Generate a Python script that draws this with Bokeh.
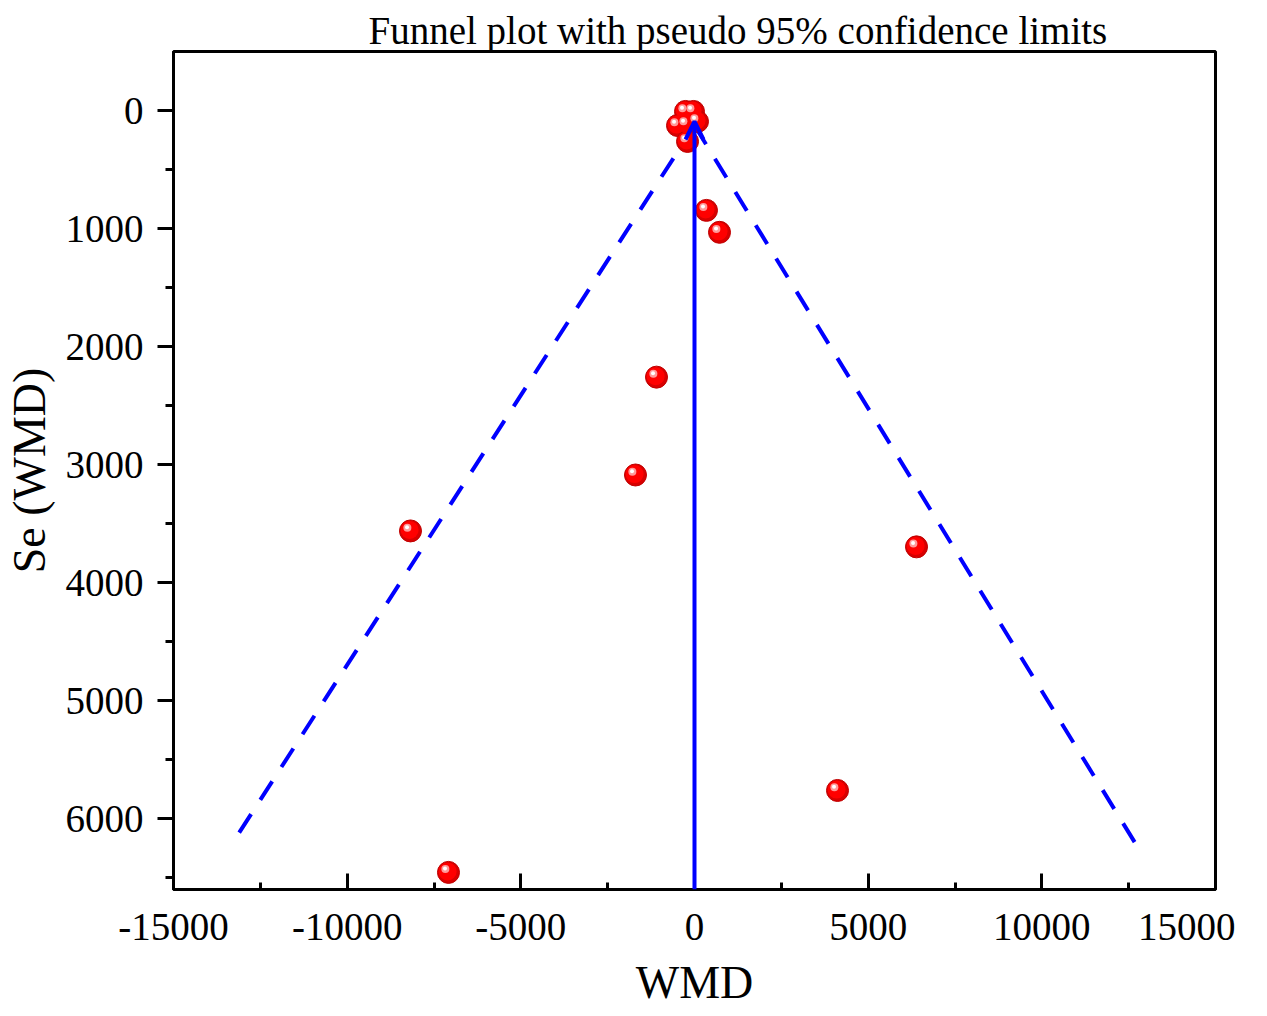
from bokeh.plotting import figure
from bokeh.models import Range1d, FixedTicker, Arrow, OpenHead
from bokeh.transform import dodge
from bokeh.embed import file_html
from bokeh.resources import INLINE

# Study estimates: WMD and its standard error
wmd = [-259, -29, -489, -230, 86, -201, 345, 720, -1094, -1699, -8177, 6392, 4117, -7083]
se = [8, 8, 127, 118, 93, 262, 846, 1032, 2259, 3088, 3562, 3697, 5761, 6455]

# pseudo 95% confidence limit lines (apex and ends)
left_x = [0, -13273]
left_y = [127, 6193]
right_x = [0, 12870]
right_y = [127, 6294]
# pooled estimate line
pooled_x = 0
pooled_top = 93
pooled_bottom = 6600

x_ticks = [-15000, -10000, -5000, 0, 5000, 10000, 15000]
x_tick_labels = ["-15000", "-10000", "-5000", "0", "5000", "10000", "15000"]
x_minor = [-12500, -7500, -2500, 2500, 7500, 12500]
y_ticks = [0, 1000, 2000, 3000, 4000, 5000, 6000]
y_tick_labels = ["0", "1000", "2000", "3000", "4000", "5000", "6000"]
y_minor = [500, 1500, 2500, 3500, 4500, 5500, 6500]

FONT = "Liberation Serif"

p = figure(frame_width=1042, frame_height=838, output_backend="svg", toolbar_location=None,
           x_range=Range1d(-15000, 15000), y_range=Range1d(6600, -500),
           min_border_left=166, min_border_right=20, min_border_bottom=100, min_border_top=51,
           title="Funnel plot with pseudo 95% confidence limits")
p.grid.visible = False
p.background_fill_color = "white"
p.border_fill_color = "white"
p.outline_line_color = "black"
p.outline_line_width = 3

p.title.text_font = FONT
p.title.text_font_size = "39px"
p.title.text_font_style = "normal"
p.title.text_color = "black"
p.title.align = "left"
p.title.offset = 195
p.title.standoff = 0

# axes
xa = p.xaxis[0]
xa.ticker = FixedTicker(ticks=x_ticks, minor_ticks=x_minor)
xa.major_label_overrides = {t: l for t, l in zip(x_ticks, x_tick_labels)}
xa.axis_label = "WMD"
ya = p.yaxis[0]
ya.ticker = FixedTicker(ticks=y_ticks, minor_ticks=y_minor)
ya.major_label_overrides = {t: l for t, l in zip(y_ticks, y_tick_labels)}
ya.axis_label = "Se (WMD)"

for ax in (xa, ya):
    ax.axis_line_width = 3
    ax.axis_line_color = "black"
    ax.major_tick_line_width = 3
    ax.minor_tick_line_width = 3
    ax.major_tick_line_color = "black"
    ax.minor_tick_line_color = "black"
    ax.major_label_text_font = FONT
    ax.major_label_text_font_size = "39px"
    ax.major_label_text_color = "black"
    ax.axis_label_text_font = FONT
    ax.axis_label_text_font_size = "46px"
    ax.axis_label_text_font_style = "normal"
    ax.axis_label_text_color = "black"

xa.major_tick_in = 16
xa.major_tick_out = 0
xa.minor_tick_in = 7
xa.minor_tick_out = 0
xa.major_label_standoff = 24
xa.axis_label_standoff = 14

ya.major_tick_in = 0
ya.major_tick_out = 16
ya.minor_tick_in = 0
ya.minor_tick_out = 8
ya.major_label_standoff = 14
ya.axis_label_standoff = 8

# funnel limits
p.line(left_x, left_y, line_color="#0000ff", line_width=4, line_dash="22 17")
p.line(right_x, right_y, line_color="#0000ff", line_width=4, line_dash="22 17")

# pooled estimate with arrow head
p.add_layout(Arrow(x_start=pooled_x, y_start=pooled_bottom, x_end=pooled_x, y_end=pooled_top,
                   line_color="#0000ff", line_width=4,
                   end=OpenHead(size=18, line_color="#0000ff", line_width=4)))

# sphere-like markers
src = dict(x=wmd, y=se)
p.scatter("x", "y", source=src, size=22, fill_color="#d80000", line_color="#c00000", line_width=1)
p.scatter(dodge("x", -25, range=p.x_range), dodge("y", -8, range=p.y_range), source=src,
          size=18, fill_color="#ff0000", line_color=None)
p.scatter(dodge("x", -90, range=p.x_range), dodge("y", -28, range=p.y_range), source=src,
          size=8, fill_color="#ff9a9a", line_color=None)
p.scatter(dodge("x", -100, range=p.x_range), dodge("y", -32, range=p.y_range), source=src,
          size=4, fill_color="#ffffff", line_color=None)

open("out.html", "w").write(file_html(p, INLINE))
